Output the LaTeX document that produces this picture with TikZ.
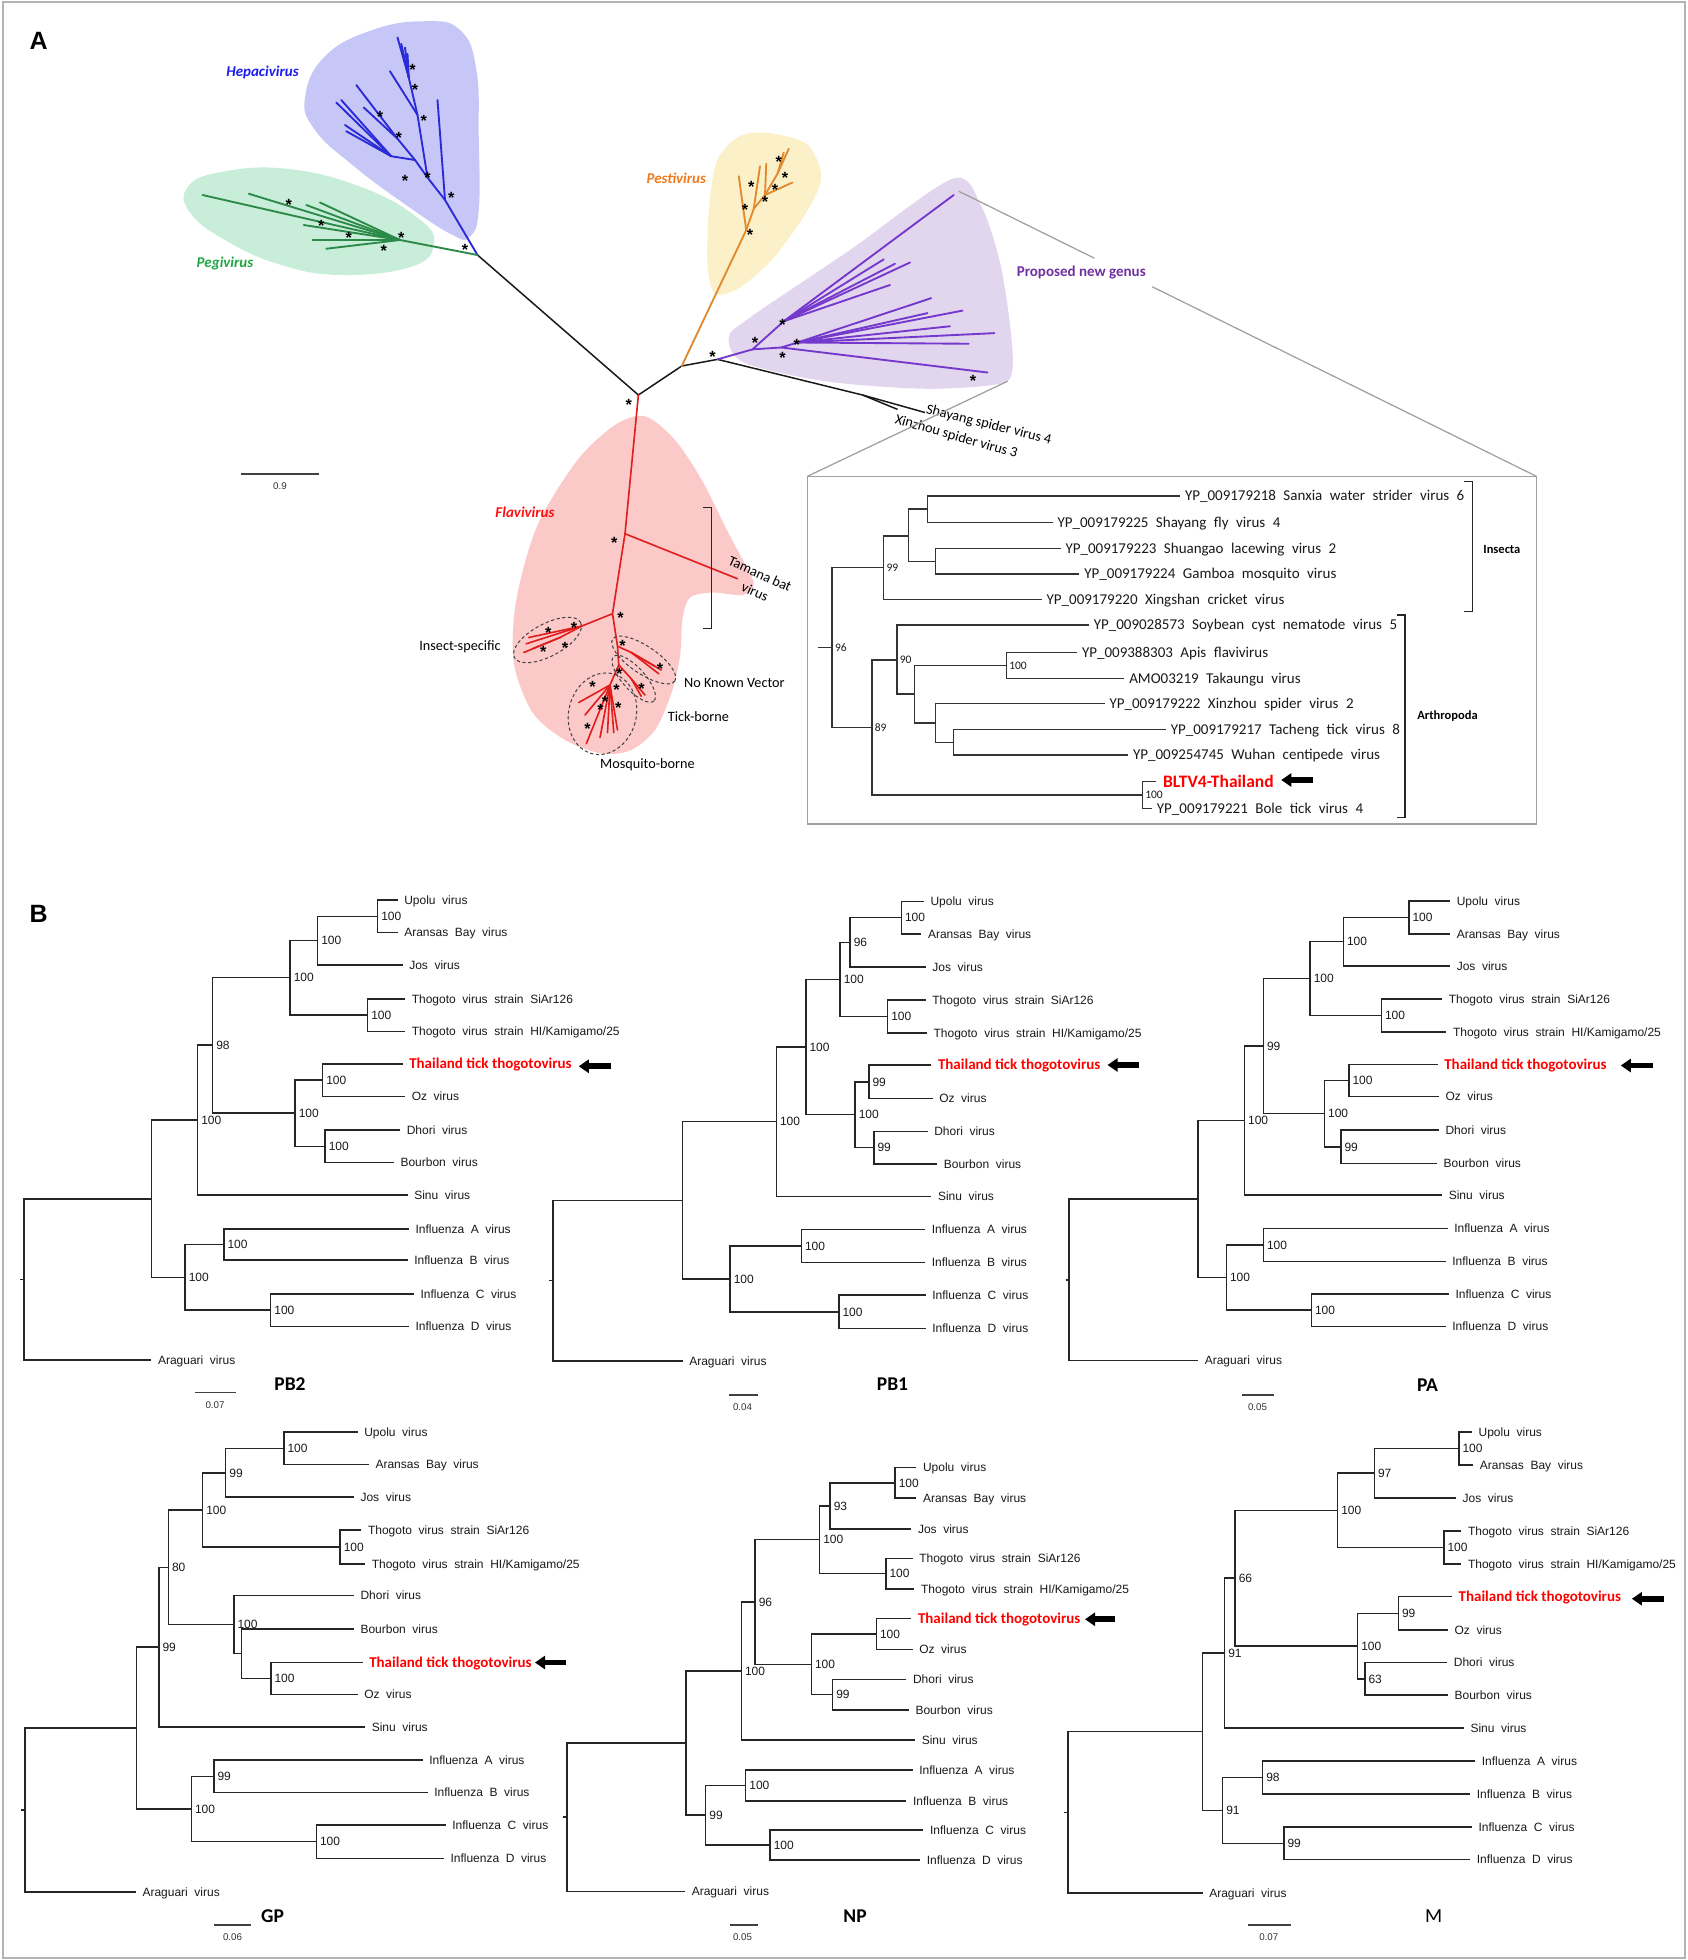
\documentclass[tikz,border=0pt]{standalone}
\usepackage{fontspec}
\setmainfont{Liberation Sans}
\newfontfamily\calf{Carlito}
\usetikzlibrary{arrows.meta,calc}
\definecolor{hepaF}{HTML}{C7C7F7}
\definecolor{hepaL}{HTML}{2A2AD6}
\definecolor{hepaT}{HTML}{1C1CF0}
\definecolor{pegiF}{HTML}{C8EDD8}
\definecolor{pegiL}{HTML}{2C8A48}
\definecolor{pegiT}{HTML}{1EA845}
\definecolor{pestiF}{HTML}{FCF0C8}
\definecolor{pestiL}{HTML}{E08B30}
\definecolor{pestiT}{HTML}{F07A1E}
\definecolor{propF}{HTML}{E2D5EE}
\definecolor{propL}{HTML}{7438CC}
\definecolor{propT}{HTML}{7030A0}
\definecolor{flaF}{HTML}{FCC9C9}
\definecolor{flaL}{HTML}{E01E1E}
\definecolor{flaT}{HTML}{FF1010}
\definecolor{redT}{HTML}{FF0000}
\definecolor{frameG}{HTML}{B4B4B4}
\definecolor{boxG}{HTML}{A0A0A0}
\newcommand\fB{\fontsize{4.8pt}{5.5pt}\selectfont\spaceskip=0.55em\relax}
\newcommand\fI{\calf\fontsize{6pt}{7pt}\selectfont\spaceskip=0.5em\relax}
\newcounter{ak}
\newcommand\sk[2]{\stepcounter{ak}\node[ast] (ak\theak) at (#1,#2) {*};}
\newcommand\tp[4]{\coordinate (#1) at (#2,#3);\node[tl] (#1-l) at (#1) {#4};}
\newcommand\tpr[4]{\coordinate (#1) at (#2,#3);\node[tlr] (#1-l) at (#1) {#4};}
\newcommand\nd[6]{\coordinate (#1) at (#2,#3);\draw[br] (#4) -| (#1) |- (#5);\node[bs] (#1-bs) at (#1) {#6};}
\newcommand\ndn[5]{\coordinate (#1) at (#2,#3);\draw[br] (#4) -| (#1) |- (#5);}
\newcommand\rtick[4]{\coordinate (#1) at (#2,#3);\draw[br] (#1) -- (#4);}
\newcommand\thar[4]{\coordinate (#1-t) at (#2,#4);\coordinate (#1-e) at (#3,#4);\draw[fat] (#1-e) -- (#1-t);}
\newcommand\sbar[7]{\coordinate (#1-a) at (#2,#4);\coordinate (#1-b) at (#3,#4);\draw[sb] (#1-a) -- (#1-b);\node[slab] (#1-l) at (#5,#6) {#7};}
\begin{document}
\begin{tikzpicture}[x=0.5pt,y=-0.5pt,
 br/.style={line width=0.6pt,draw=black!85},
 tl/.style={anchor=west,inner xsep=2.5pt,inner ysep=0pt,text height=3.44pt,text depth=0pt,font=\fB,text=black!90},
 tlr/.style={anchor=west,inner xsep=2.5pt,inner ysep=0pt,text height=3.86pt,text depth=0pt,font=\calf\bfseries\fontsize{6pt}{7pt}\selectfont,text=redT},
 bs/.style={anchor=west,inner xsep=1.3pt,inner ysep=0pt,text height=3.44pt,text depth=0pt,font=\fB,text=black!90},
 fat/.style={line width=2.3pt,-{Triangle[length=4pt,width=5.2pt]}},
 sb/.style={line width=0.7pt,draw=black!75},
 slab/.style={font=\fontsize{3.9pt}{4.5pt}\selectfont,text=black!80,inner sep=0pt},
 ttl/.style={font=\calf\bfseries\fontsize{7.8pt}{9pt}\selectfont,inner sep=0pt},
 ast/.style={font=\bfseries\fontsize{6.5pt}{7pt}\selectfont,inner sep=0pt,yshift=-1.3pt},
 aline/.style={line width=0.75pt,line cap=round},
 bk/.style={line width=0.6pt,draw=black!90},
 glab/.style={font=\calf\bfseries\itshape\fontsize{6pt}{7pt}\selectfont,inner sep=0pt},
 flab/.style={font=\calf\fontsize{5.7pt}{6.5pt}\selectfont,inner sep=0pt},
 blab/.style={font=\calf\bfseries\fontsize{5pt}{6pt}\selectfont,inner sep=0pt},
 dsh/.style={dash pattern=on 1.3pt off 1pt,line width=0.4pt,draw=black!75},
 brk/.style={line width=0.6pt,draw=black!85}]
\useasboundingbox (0,0) rectangle (1350,1568);
\draw[frameG,line width=0.8pt] (2,2) rectangle (1348,1566);
% ================= PANEL A =================
\node[font=\bfseries\fontsize{10pt}{12pt}\selectfont,inner sep=0pt] (lblA) at (31,33) {A};
% blobs
\fill[hepaF] plot[smooth cycle,tension=0.75] coordinates {(340,17) (368,24) (381,55) (383,110) (383,168) (376,189) (362,188) (322,162) (282,132) (252,104) (244,78) (260,45) (298,24)};
\fill[pegiF] plot[smooth cycle,tension=0.75] coordinates {(150,150) (175,138) (229,135) (290,150) (335,175) (347,195) (330,213) (275,220) (225,212) (180,192) (152,170)};
\fill[pestiF] plot[smooth cycle] coordinates {(612,106) (645,115) (657,140) (648,165) (620,205) (592,230) (572,235) (566,212) (567,170) (573,130) (590,110)};
\fill[propF] plot[smooth cycle] coordinates {(762,143) (785,165) (800,210) (808,260) (810,295) (800,307) (740,311) (660,305) (595,290) (583,270) (600,254) (680,200)};
\fill[flaF] plot[smooth cycle] coordinates {(516,333) (540,352) (562,385) (582,425) (598,455) (603,468) (594,476) (570,474) (552,478) (546,495) (544,525) (537,555) (524,584) (505,600) (482,603) (452,592) (426,570) (411,530) (413,480) (430,420) (462,368) (492,340)};
% backbone
\coordinate (hJ) at (382,204);
\coordinate (rt) at (510.7,316);
\coordinate (pN) at (545.4,292.8);
\coordinate (s0) at (574,287.5);
\coordinate (s1) at (690,316);
\coordinate (shT) at (740,330);
\coordinate (xzT) at (718,327.5);
\draw[bk] (hJ) -- (rt) -- (pN) -- (s0) -- (s1) -- (shT);
\draw[bk] (s1) -- (xzT);
% Hepacivirus
\coordinate (h1) at (356,160); \coordinate (h2) at (342,142); \coordinate (h3) at (334,92);
\coordinate (h4) at (327,62); \coordinate (h5) at (332,128); \coordinate (h6) at (318,111); \coordinate (h7) at (313,125);
\begin{scope}[aline,draw=hepaL]
\draw (hJ) -- (h1) -- (350,80);
\draw (h1) -- (h2) -- (h3) -- (h4) -- (318,30);
\draw (h4) -- (321,35); \draw (h4) -- (324,38); \draw (h4) -- (326,43);
\draw (h3) -- (312,57);
\draw (h2) -- (h5) -- (h6) -- (285,68); \draw (h6) -- (291,86);
\draw (h5) -- (h7) -- (269,82); \draw (h7) -- (273,80); \draw (h7) -- (276,100); \draw (h7) -- (277,105);
\end{scope}
% Pegivirus
\coordinate (g1) at (320,192);
\begin{scope}[aline,draw=pegiL]
\draw (hJ) -- (g1) -- (162,156);
\draw (g1) -- (199,155); \draw (g1) -- (245,164); \draw (g1) -- (256,162);
\draw (g1) -- (243,180); \draw (g1) -- (250,192); \draw (g1) -- (261,199);
\end{scope}
% Pestivirus
\coordinate (o1) at (597,184); \coordinate (o2) at (603,167); \coordinate (o3) at (612,156); \coordinate (o4) at (622,139);
\begin{scope}[aline,draw=pestiL]
\draw (pN) -- (o1) -- (591,141);
\draw (o1) -- (o2) -- (608,133);
\draw (o2) -- (o3) -- (613,131);
\draw (o3) -- (634,146);
\draw (o3) -- (o4) -- (631,119); \draw (o4) -- (627,122);
\end{scope}
% Proposed new genus
\coordinate (P1) at (602,279.5); \coordinate (P2) at (627,257); \coordinate (P3) at (625,278); \coordinate (P4) at (638,274);
\begin{scope}[aline,draw=propL]
\draw (s0) -- (P1) -- (P2) -- (763,156);
\draw (P2) -- (707,207.5); \draw (P2) -- (716,211); \draw (P2) -- (728,210); \draw (P2) -- (712,228);
\draw (P1) -- (P3) -- (P4) -- (745,238.5);
\draw (P4) -- (770,248.5); \draw (P4) -- (742,250.5); \draw (P4) -- (760,261); \draw (P4) -- (795.5,266.5); \draw (P4) -- (775,275);
\draw (P3) -- (790,298);
\end{scope}
% Flavivirus
\coordinate (f1) at (500,427); \coordinate (f2) at (490,491); \coordinate (f3) at (494,517); \coordinate (f4) at (495,532);
\coordinate (fi) at (465,501); \coordinate (fj) at (448,510); \coordinate (fn) at (505,522); \coordinate (ft) at (505,543); \coordinate (fm) at (488,548);
\begin{scope}[aline,draw=flaL,line width=0.65pt]
\draw (rt) -- (f1) -- (f2) -- (f3) -- (f4);
\draw (f1) -- (590,463);
\draw (f2) -- (fi) -- (423,510); \draw (fi) -- (421,515); \draw (fi) -- (fj) -- (419,522); \draw (fj) -- (426,519);
\draw (f3) -- (fn) -- (529,536); \draw (fn) -- (527,539); \draw (fn) -- (524,533);
\draw (f4) -- (ft) -- (516,556); \draw (ft) -- (513,557);
\draw (f4) -- (fm) -- (469,595); \draw (fm) -- (463,562); \draw (fm) -- (468,572); \draw (fm) -- (494,584);
\draw (fm) -- (491,586); \draw (fm) -- (480,590); \draw (fm) -- (486,586);
\end{scope}
% dashed ellipses
\coordinate (ei) at (438,512); \coordinate (en) at (515,528); \coordinate (et) at (507,543); \coordinate (em) at (482,571);
\draw[dsh,rotate around={28:(ei)}] (ei) ellipse (30 and 13);
\draw[dsh,rotate around={-34:(en)}] (en) ellipse (30 and 11);
\draw[dsh,rotate around={-48:(et)}] (et) ellipse (24 and 9);
\draw[dsh,rotate around={-15:(em)}] (em) ellipse (27 and 33);
% Tamana bracket
\coordinate (tb1) at (562.7,406); \coordinate (tb2) at (569.3,406); \coordinate (tb3) at (569.3,502.7); \coordinate (tb4) at (562.7,502.7);
\draw[brk] (tb1) -- (tb2) -- (tb3) -- (tb4);
% asterisks
\sk{330}{53}\sk{332}{69}\sk{339}{94}\sk{304}{91}\sk{319}{108}\sk{324}{142}\sk{342}{140}\sk{361}{156}\sk{372}{197}
\sk{231}{161}\sk{257}{178}\sk{279}{188}\sk{307}{198}\sk{321}{188}
\sk{600}{185}\sk{596}{165}\sk{601}{147}\sk{612}{159}\sk{620}{149}\sk{623}{127}\sk{628}{140}
\sk{570}{283}\sk{604}{272}\sk{626}{257}\sk{637.5}{273}\sk{626}{284}\sk{778.5}{302}
\sk{503}{321}
\sk{491.5}{431.5}\sk{496.5}{492}\sk{438.7}{504}\sk{459.2}{499.5}\sk{434.7}{519}\sk{452}{516}\sk{498}{514}\sk{528}{532.5}
\sk{495.5}{536.8}\sk{513.3}{548.5}\sk{474}{547}\sk{493.3}{549}\sk{484}{558.7}\sk{480.5}{565.3}\sk{494.7}{564}\sk{470}{580.8}
% labels
\node[glab,text=hepaT] (lHep) at (210,58) {Hepacivirus};
\node[glab,text=pegiT] (lPeg) at (180,211) {Pegivirus};
\node[glab,text=pestiT] (lPes) at (541,143) {Pestivirus};
\node[font=\calf\bfseries\fontsize{6pt}{7pt}\selectfont,inner sep=0pt,text=propT] (lProp) at (865,218) {Proposed new genus};
\node[glab,text=flaT] (lFla) at (420,410) {Flavivirus};
\node[flab] (lIns) at (368,517) {Insect-specific};
\node[flab] (lNKV) at (587.5,546) {No Known Vector};
\node[flab] (lTick) at (558.7,573) {Tick-borne};
\node[flab] (lMos) at (518,612) {Mosquito-borne};
\node[flab,rotate=-24] (lTam1) at (608,459) {Tamana bat};
\node[flab,rotate=-24] (lTam2) at (604,473.5) {virus};
\node[flab,rotate=-14] (lShy) at (791,340) {Shayang spider virus 4};
\node[flab,rotate=-16] (lXin) at (765,349.5) {Xinzhou spider virus 3};
% scale bar A
\sbar{sA}{193}{255}{379}{224}{389}{0.9}
% connectors to inset
\coordinate (cA) at (767,153); \coordinate (bTR) at (1229,381);
\coordinate (cB) at (806,305); \coordinate (bTL) at (646,381); \coordinate (bBR) at (1229,659);
\draw[boxG,line width=0.5pt] (cA) -- ($(cA)!0.235!(bTR)$);
\draw[boxG,line width=0.5pt] ($(cA)!0.335!(bTR)$) -- (bTR);
\draw[boxG,line width=0.5pt] (cB) -- (bTL);
\draw[boxG,line width=0.6pt] (bTL) rectangle (bBR);
% inset tree
\begin{scope}[br/.style={line width=0.6pt,draw=black!80},
 tl/.style={anchor=west,inner xsep=1.8pt,inner ysep=0pt,text height=3.86pt,text depth=0pt,font=\fI,text=black!90},
 tlr/.style={anchor=west,inner xsep=2.5pt,inner ysep=0pt,text height=4.5pt,text depth=0pt,font=\calf\bfseries\fontsize{7pt}{8pt}\selectfont,text=redT},
 bs/.style={anchor=west,inner xsep=1pt,inner ysep=0pt,text height=2.95pt,text depth=0pt,font=\calf\fontsize{4.6pt}{5pt}\selectfont,text=black!90}]
\tp{i1}{944}{396.8}{YP\_009179218 Sanxia water strider virus 6}
\tp{i2}{842}{417.9}{YP\_009179225 Shayang fly virus 4}
\tp{i3}{848.4}{438.7}{YP\_009179223 Shuangao lacewing virus 2}
\tp{i4}{863.5}{459.2}{YP\_009179224 Gamboa mosquito virus}
\tp{i5}{833.3}{479.5}{YP\_009179220 Xingshan cricket virus}
\tp{i6}{871}{500}{YP\_009028573 Soybean cyst nematode virus 5}
\tp{i7}{861.6}{521.9}{YP\_009388303 Apis flavivirus}
\tp{i8}{899.4}{542.7}{AMO03219 Takaungu virus}
\tp{i9}{883.6}{562.7}{YP\_009179222 Xinzhou spider virus 2}
\tp{i10}{932.6}{583.5}{YP\_009179217 Tacheng tick virus 8}
\tp{i11}{902.4}{604}{YP\_009254745 Wuhan centipede virus}
\tpr{i12}{925}{625.3}{BLTV4-Thailand}
\tp{i13}{921.5}{646.7}{YP\_009179221 Bole tick virus 4}
\ndn{iA}{742}{407.3}{i1}{i2}
\ndn{iB}{748.4}{449}{i3}{i4}
\ndn{iC}{726.8}{428.6}{iA}{iB}
\nd{iD}{706.8}{454}{iC}{i5}{99}
\nd{iE}{805}{532.3}{i7}{i8}{100}
\ndn{iF}{762.7}{593.8}{i10}{i11}
\ndn{iG}{748.4}{578.3}{i9}{iF}
\ndn{iH}{731.4}{555.3}{iE}{iG}
\nd{iJ}{717.4}{527.8}{i6}{iH}{90}
\nd{iK}{913.8}{636}{i12}{i13}{100}
\nd{iL}{697.4}{582}{iJ}{iK}{89}
\nd{iM}{665.7}{518}{iD}{iL}{96}
\rtick{iMt}{654.3}{518}{iM}
\thar{iAr}{1025}{1050.5}{624}
\end{scope}
\coordinate (bI1) at (1171,385); \coordinate (bI2) at (1178,385); \coordinate (bI3) at (1178,489); \coordinate (bI4) at (1171,489);
\draw[brk] (bI1) -- (bI2) -- (bI3) -- (bI4);
\coordinate (bA1) at (1117.6,492); \coordinate (bA2) at (1124,492); \coordinate (bA3) at (1124,654); \coordinate (bA4) at (1117.6,654);
\draw[brk] (bA1) -- (bA2) -- (bA3) -- (bA4);
\node[blab] (lInsecta) at (1201.5,439.5) {Insecta};
\node[blab] (lArth) at (1158,573) {Arthropoda};
% ================= PANEL B =================
\node[font=\bfseries\fontsize{10pt}{12pt}\selectfont,inner sep=0pt] (lblB) at (31,731) {B};
% ---- PB2 ----
\tp{aUp}{318}{720}{Upolu virus}
\tp{aAr}{318}{746}{Aransas Bay virus}
\tp{aJo}{322}{772}{Jos virus}
\tp{aSi}{324}{799}{Thogoto virus strain SiAr126}
\tp{aHI}{324}{825}{Thogoto virus strain HI/Kamigamo/25}
\tpr{aTh}{322}{851}{Thailand tick thogotovirus}
\tp{aOz}{324}{877}{Oz virus}
\tp{aDh}{320}{904}{Dhori virus}
\tp{aBo}{315}{930}{Bourbon virus}
\tp{aSn}{326}{956}{Sinu virus}
\tp{aFA}{327}{983}{Influenza A virus}
\tp{aFB}{326}{1008}{Influenza B virus}
\tp{aFC}{331}{1035}{Influenza C virus}
\tp{aFD}{327}{1061}{Influenza D virus}
\tp{aAg}{121}{1088}{Araguari virus}
\nd{aUA}{302}{733}{aUp}{aAr}{100}
\nd{aUJ}{254}{752.5}{aUA}{aJo}{100}
\nd{aTT}{294}{812}{aSi}{aHI}{100}
\nd{aUT}{232}{782}{aUJ}{aTT}{100}
\nd{aTO}{258}{864}{aTh}{aOz}{100}
\nd{aDB}{260}{917}{aDh}{aBo}{100}
\nd{aTD}{236}{890.5}{aTO}{aDB}{100}
\nd{aA}{170}{836}{aUT}{aTD}{98}
\nd{aS}{158}{896}{aA}{aSn}{100}
\nd{aAB}{179}{995.5}{aFA}{aFB}{100}
\nd{aCD}{216.5}{1048}{aFC}{aFD}{100}
\nd{aF}{148}{1022}{aAB}{aCD}{100}
\ndn{aI}{121}{959}{aS}{aF}
\ndn{aR}{19}{1023.5}{aI}{aAg}
\rtick{aRt}{16}{1023.5}{aR}
\thar{aAw}{463}{489}{853}
\node[ttl] (tPB2) at (232,1107) {PB2};
\sbar{aSc}{156}{189}{1114}{172}{1124}{0.07}
% ---- PB1 ----
\tp{bUp}{739}{721}{Upolu virus}
\tp{bAr}{737}{747}{Aransas Bay virus}
\tp{bJo}{740.5}{773.6}{Jos virus}
\tp{bSi}{740.5}{800}{Thogoto virus strain SiAr126}
\tp{bHI}{741.5}{826.4}{Thogoto virus strain HI/Kamigamo/25}
\tpr{bTh}{745}{852}{Thailand tick thogotovirus}
\tp{bOz}{746}{878.7}{Oz virus}
\tp{bDh}{742}{905}{Dhori virus}
\tp{bBo}{749.7}{931}{Bourbon virus}
\tp{bSn}{745}{957}{Sinu virus}
\tp{bFA}{740}{983.6}{Influenza A virus}
\tp{bFB}{740}{1010}{Influenza B virus}
\tp{bFC}{740.5}{1036}{Influenza C virus}
\tp{bFD}{740.5}{1062.7}{Influenza D virus}
\tp{bAg}{546}{1088.7}{Araguari virus}
\nd{bUA}{721}{734}{bUp}{bAr}{100}
\nd{bUJ}{680}{753.8}{bUA}{bJo}{96}
\nd{bTT}{710}{813.2}{bSi}{bHI}{100}
\nd{bUT}{672}{783.5}{bUJ}{bTT}{100}
\nd{bTO}{695}{865.4}{bTh}{bOz}{99}
\nd{bDB}{699}{918}{bDh}{bBo}{99}
\nd{bTD}{684}{891.7}{bTO}{bDB}{100}
\nd{bA}{644.6}{837.6}{bUT}{bTD}{100}
\nd{bS}{621}{897.3}{bA}{bSn}{100}
\nd{bAB}{641}{996.8}{bFA}{bFB}{100}
\nd{bCD}{671}{1049.4}{bFC}{bFD}{100}
\nd{bF}{584}{1023.1}{bAB}{bCD}{100}
\ndn{bI}{546}{960.2}{bS}{bF}
\ndn{bR}{442.5}{1024.5}{bI}{bAg}
\rtick{bRt}{439}{1024.5}{bR}
\thar{bAw}{886}{911}{852}
\node[ttl] (tPB1) at (714,1107) {PB1};
\sbar{bSc}{583}{606}{1116}{594}{1126}{0.04}
% ---- PA ----
\tp{cUp}{1160}{720.7}{Upolu virus}
\tp{cAr}{1160}{747}{Aransas Bay virus}
\tp{cJo}{1160}{772.7}{Jos virus}
\tp{cSi}{1153.6}{799.3}{Thogoto virus strain SiAr126}
\tp{cHI}{1157}{825.6}{Thogoto virus strain HI/Kamigamo/25}
\tpr{cTh}{1150}{851.6}{Thailand tick thogotovirus}
\tp{cOz}{1151}{877}{Oz virus}
\tp{cDh}{1151}{904}{Dhori virus}
\tp{cBo}{1149.5}{930.7}{Bourbon virus}
\tp{cSn}{1153.6}{956}{Sinu virus}
\tp{cFA}{1158}{982.7}{Influenza A virus}
\tp{cFB}{1156.5}{1009}{Influenza B virus}
\tp{cFC}{1159}{1035}{Influenza C virus}
\tp{cFD}{1156.5}{1061}{Influenza D virus}
\tp{cAg}{958.4}{1088.4}{Araguari virus}
\nd{cUA}{1127}{733.9}{cUp}{cAr}{100}
\nd{cUJ}{1074.6}{753.3}{cUA}{cJo}{100}
\nd{cTT}{1105}{812.5}{cSi}{cHI}{100}
\nd{cUT}{1048}{782.9}{cUJ}{cTT}{100}
\nd{cTO}{1079}{864.3}{cTh}{cOz}{100}
\nd{cDB}{1072.6}{917.4}{cDh}{cBo}{99}
\nd{cTD}{1059.5}{890.9}{cTO}{cDB}{100}
\nd{cA}{1010.6}{836.9}{cUT}{cTD}{99}
\nd{cS}{995.5}{896.4}{cA}{cSn}{100}
\nd{cAB}{1010.6}{995.9}{cFA}{cFB}{100}
\nd{cCD}{1049}{1048}{cFC}{cFD}{100}
\nd{cF}{981}{1022}{cAB}{cCD}{100}
\ndn{cI}{958.4}{959.2}{cS}{cF}
\ndn{cR}{855}{1023.8}{cI}{cAg}
\rtick{cRt}{852.5}{1023.8}{cR}
\thar{cAw}{1296.6}{1322}{852.4}
\node[ttl] (tPA) at (1142,1108) {PA};
\sbar{cSc}{993.6}{1019}{1116}{1006}{1126}{0.05}
% ---- GP ----
\tp{dUp}{286}{1145.7}{Upolu virus}
\tp{dAr}{295}{1171.7}{Aransas Bay virus}
\tp{dJo}{283}{1197.7}{Jos virus}
\tp{dSi}{289}{1224}{Thogoto virus strain SiAr126}
\tp{dHI}{292}{1251}{Thogoto virus strain HI/Kamigamo/25}
\tp{dDh}{283}{1276.3}{Dhori virus}
\tp{dBo}{283}{1303}{Bourbon virus}
\tpr{dTh}{290}{1330}{Thailand tick thogotovirus}
\tp{dOz}{286}{1355.7}{Oz virus}
\tp{dSn}{292}{1381.4}{Sinu virus}
\tp{dFA}{338}{1408}{Influenza A virus}
\tp{dFB}{342}{1434}{Influenza B virus}
\tp{dFC}{356.5}{1460}{Influenza C virus}
\tp{dFD}{355}{1486.6}{Influenza D virus}
\tp{dAg}{108.6}{1513.4}{Araguari virus}
\nd{dUA}{227}{1158.7}{dUp}{dAr}{100}
\nd{dUJ}{180.5}{1178.2}{dUA}{dJo}{99}
\nd{dTT}{272}{1237.5}{dSi}{dHI}{100}
\nd{dUT}{162}{1207.9}{dUJ}{dTT}{100}
\nd{dTO}{216.6}{1342.9}{dTh}{dOz}{100}
\ndn{dBT}{193}{1322.9}{dBo}{dTO}
\nd{dDB}{187}{1299.6}{dDh}{dBT}{100}
\nd{dA}{134.6}{1253.8}{dUT}{dDB}{80}
\nd{dS}{127}{1317.6}{dA}{dSn}{99}
\nd{dAB}{171}{1421}{dFA}{dFB}{99}
\nd{dCD}{253}{1473.3}{dFC}{dFD}{100}
\nd{dF}{153}{1447.2}{dAB}{dCD}{100}
\ndn{dI}{109}{1382.4}{dS}{dF}
\ndn{dR}{20}{1447.9}{dI}{dAg}
\rtick{dRt}{17}{1447.9}{dR}
\thar{dAw}{428}{453}{1330}
\node[ttl] (tGP) at (218,1533) {GP};
\sbar{dSc}{171}{201}{1540}{186}{1550}{0.06}
% ---- NP ----
\tp{eUp}{733}{1174}{Upolu virus}
\tp{eAr}{733}{1198.4}{Aransas Bay virus}
\tp{eJo}{729}{1223}{Jos virus}
\tp{eSi}{730}{1246.6}{Thogoto virus strain SiAr126}
\tp{eHI}{731.5}{1271}{Thogoto virus strain HI/Kamigamo/25}
\tpr{eTh}{729}{1294.6}{Thailand tick thogotovirus}
\tp{eOz}{730}{1319.4}{Oz virus}
\tp{eDh}{725}{1343.6}{Dhori virus}
\tp{eBo}{727}{1367.8}{Bourbon virus}
\tp{eSn}{732}{1391.8}{Sinu virus}
\tp{eFA}{730}{1415.8}{Influenza A virus}
\tp{eFB}{725}{1440.6}{Influenza B virus}
\tp{eFC}{738.7}{1464}{Influenza C virus}
\tp{eFD}{736}{1488}{Influenza D virus}
\tp{eAg}{548}{1513}{Araguari virus}
\nd{eUA}{716}{1186.2}{eUp}{eAr}{100}
\nd{eUJ}{664}{1204.6}{eUA}{eJo}{93}
\nd{eTT}{708.6}{1258.8}{eSi}{eHI}{100}
\nd{eUT}{655.6}{1231.7}{eUJ}{eTT}{100}
\nd{eTO}{701}{1307}{eTh}{eOz}{100}
\nd{eDB}{666}{1355.7}{eDh}{eBo}{99}
\nd{eTD}{649}{1331.4}{eTO}{eDB}{100}
\nd{eA}{604}{1281.5}{eUT}{eTD}{96}
\nd{eS}{593}{1336.7}{eA}{eSn}{100}
\nd{eAB}{596.5}{1428.2}{eFA}{eFB}{100}
\nd{eCD}{616}{1476}{eFC}{eFD}{100}
\nd{eF}{564.5}{1452.1}{eAB}{eCD}{99}
\ndn{eI}{548.8}{1394.4}{eS}{eF}
\ndn{eR}{453.4}{1453.7}{eI}{eAg}
\rtick{eRt}{450.3}{1453.7}{eR}
\thar{eAw}{868}{892}{1295.4}
\node[ttl] (tNP) at (684,1533) {NP};
\sbar{eSc}{584}{606}{1540}{594}{1550}{0.05}
% ---- M ----
\tp{fUp}{1177.5}{1145.5}{Upolu virus}
\tp{fAr}{1178.5}{1172}{Aransas Bay virus}
\tp{fJo}{1164.7}{1198.2}{Jos virus}
\tp{fSi}{1169}{1224.8}{Thogoto virus strain SiAr126}
\tp{fHI}{1169}{1251}{Thogoto virus strain HI/Kamigamo/25}
\tpr{fTh}{1161.5}{1277.3}{Thailand tick thogotovirus}
\tp{fOz}{1158.3}{1303.8}{Oz virus}
\tp{fDh}{1157.7}{1330}{Dhori virus}
\tp{fBo}{1158.3}{1356}{Bourbon virus}
\tp{fSn}{1171}{1382.2}{Sinu virus}
\tp{fFA}{1180}{1408.7}{Influenza A virus}
\tp{fFB}{1176}{1435}{Influenza B virus}
\tp{fFC}{1177.5}{1461.5}{Influenza C virus}
\tp{fFD}{1176}{1487.7}{Influenza D virus}
\tp{fAg}{962}{1514.3}{Araguari virus}
\nd{fUA}{1167}{1158.8}{fUp}{fAr}{100}
\nd{fUJ}{1099.4}{1178.5}{fUA}{fJo}{97}
\nd{fTT}{1155}{1237.9}{fSi}{fHI}{100}
\nd{fUT}{1070}{1208.2}{fUJ}{fTT}{100}
\nd{fTO}{1118.6}{1290.6}{fTh}{fOz}{99}
\nd{fDB}{1091.8}{1343}{fDh}{fBo}{63}
\nd{fTD}{1086}{1316.8}{fTO}{fDB}{100}
\nd{fA}{988}{1262.5}{fUT}{fTD}{66}
\nd{fS}{979.6}{1322.4}{fA}{fSn}{91}
\nd{fAB}{1010}{1421.9}{fFA}{fFB}{98}
\nd{fCD}{1027}{1474.6}{fFC}{fFD}{99}
\nd{fF}{978}{1448.2}{fAB}{fCD}{91}
\ndn{fI}{962}{1385.3}{fS}{fF}
\ndn{fR}{854.4}{1449.8}{fI}{fAg}
\rtick{fRt}{851.2}{1449.8}{fR}
\thar{fAw}{1305.5}{1331}{1279}
\node[font=\calf\fontsize{8pt}{9pt}\selectfont,inner sep=0pt] (tM) at (1147,1533) {M};
\sbar{fSc}{998}{1033}{1540}{1015}{1550}{0.07}
\end{tikzpicture}
\end{document}
